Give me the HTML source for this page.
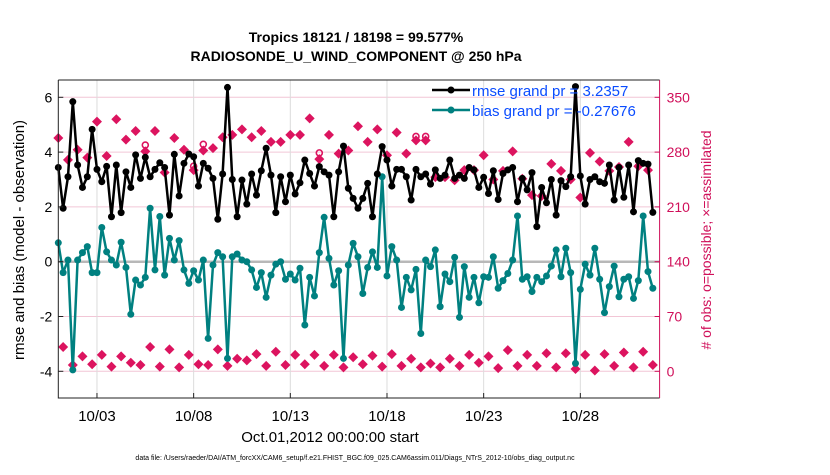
<!DOCTYPE html>
<html><head><meta charset="utf-8">
<style>
body{margin:0;background:#fff;width:830px;height:470px;overflow:hidden;font-family:"Liberation Sans",sans-serif;}
svg text{font-family:"Liberation Sans",sans-serif;}
</style></head>
<body>
<svg id="chart" width="830" height="470" xmlns="http://www.w3.org/2000/svg">
<rect x="0" y="0" width="830" height="470" fill="#fff"/>
<text x="356" y="42" font-size="14" font-weight="bold" text-anchor="middle">Tropics 18121 / 18198 = 99.577%</text>
<text x="356" y="61" font-size="14" font-weight="bold" text-anchor="middle">RADIOSONDE_U_WIND_COMPONENT @ 250 hPa</text>
<g id="grid"></g>
<g id="marks"></g>
<g id="axes"></g>
<text transform="translate(24,240) rotate(-90)" font-size="15" text-anchor="middle">rmse and bias (model - observation)</text>
<text transform="translate(711,240) rotate(-90)" font-size="14" fill="#d0105a" text-anchor="middle"># of obs: o=possible; ×=assimilated</text>
<text x="330" y="442" font-size="15" text-anchor="middle">Oct.01,2012 00:00:00 start</text>
<text x="355" y="460" font-size="7" text-anchor="middle">data file: /Users/raeder/DAI/ATM_forcXX/CAM6_setup/f.e21.FHIST_BGC.f09_025.CAM6assim.011/Diags_NTrS_2012-10/obs_diag_output.nc</text>
<g>
<line x1="432" y1="90" x2="470" y2="90" stroke="#000" stroke-width="2.5"/>
<circle cx="451" cy="90" r="3.5" fill="#000"/>
<text x="472" y="96" font-size="15" fill="#0a4cff">rmse grand pr = 3.2357</text>
<line x1="432" y1="110" x2="470" y2="110" stroke="#008080" stroke-width="2.5"/>
<circle cx="451" cy="110" r="3.5" fill="#008080"/>
<text x="472" y="116" font-size="15" fill="#0a4cff">bias grand pr = -0.27676</text>
</g>
</svg>
<script>
const rmse=[3.44,1.95,3.1,5.84,3.53,2.71,3.1,4.83,3.37,2.92,3.48,1.64,3.53,1.79,3.28,2.71,3.9,3.04,3.81,3.1,3.37,3.61,3.44,1.7,3.92,2.4,3.59,3.93,3.83,2.76,3.59,3.41,
3.04,1.55,3.2,6.36,3.0,1.64,2.98,2.1,3.2,2.43,3.32,4.14,3.16,1.79,3.1,2.19,3.16,2.47,2.88,3.71,3.22,2.76,3.47,3.28,3.16,1.64,3.28,4.22,2.68,2.31,1.95,
2.31,2.86,1.64,3.2,4.2,3.71,2.76,3.37,3.37,3.1,2.25,3.37,3.1,3.2,2.83,3.35,3.04,3.16,3.71,3.04,3.16,3.04,3.44,3.35,2.71,3.08,2.49,3.32,2.27,3.22,3.35,
3.44,2.19,3.04,2.62,3.25,1.28,2.71,2.15,3.0,1.7,2.96,2.74,3.1,6.39,3.13,2.1,3.0,3.1,2.92,2.86,3.53,2.25,3.44,2.35,3.53,1.82,3.69,3.59,3.56,1.8];
const bias=[0.69,-0.4,0.06,-3.95,0.06,0.33,0.55,-0.4,-0.4,1.25,0.36,0.06,-0.12,0.71,-0.21,-1.92,-0.67,-0.85,-0.57,1.95,-0.3,1.65,-0.49,0.85,0.06,0.77,-0.3,-0.79,-0.33,-0.67,0.06,-2.8,
-0.12,0.33,0.18,-3.53,0.18,0.28,0.06,0,-0.3,-0.94,-0.4,-1.3,-0.49,-0.09,0,-0.64,-0.45,-0.67,-0.24,-2.31,-0.57,-1.25,0.33,1.62,0.12,-0.85,-0.33,-3.53,-0.12,0.67,0.18,
-1.16,-0.21,0.36,-0.21,3.1,-0.52,0.55,0.06,-1.67,-0.57,-1.03,-0.28,-2.62,0.06,-0.18,0.43,-1.64,-0.45,-0.73,0.16,-2.03,-0.18,-1.3,-0.57,-1.5,-0.55,-0.57,0.18,-0.97,-0.69,-0.43,
0.06,1.67,-0.64,-0.55,-1.09,-0.57,-0.73,-0.52,-0.16,0.43,-0.55,0.49,-0.4,-3.71,-1.01,-0.09,-0.49,0.49,-0.64,-1.86,-0.91,-0.16,-1.28,-0.64,-0.55,-1.34,-0.69,1.67,-0.36,-0.97];
const nAssim=[298,31,270,8,283,19,273,9,319,21,275,6,322,19,296,11,307,8,281,31,307,6,254,28,298,5,283,21,257,9,282,8,
285,28,299,7,302,16,309,14,299,22,307,7,293,25,293,8,302,21,302,9,323,21,271,7,302,21,278,5,282,18,313,
9,293,20,309,6,276,22,305,7,278,16,295,5,295,10,248,5,248,16,244,7,257,21,257,11,276,19,245,4,256,27,
281,7,246,21,225,7,224,23,265,5,256,23,245,3,222,21,279,1,268,22,256,7,261,24,293,5,262,25,257,8];
const nPoss=nAssim.map((v,i)=>[18,28,30,54,74,76].includes(i)?v+(i===74||i===76?5:i===28?5:8):v);
const leftTicks=[-4,-2,0,2,4,6];
const rightTicks=[0,70,140,210,280,350];
const xTickDays=[2,7,12,17,22,27];
const xTickLabels=["10/03","10/08","10/13","10/18","10/23","10/28"];

const PL=58.3,PR=659.6,PT=80,PB=398;
const X0=0,X1=31.1;
const sx=d=>PL+(d-X0)/(X1-X0)*(PR-PL);
const sy=v=>261.7-v*27.4;
const sr=c=>sy(c/35-4);
const NS='http://www.w3.org/2000/svg';
function mk(tag,attrs,parent){const e=document.createElementNS(NS,tag);for(const k in attrs)e.setAttribute(k,attrs[k]);parent.appendChild(e);return e;}
const grid=document.getElementById('grid'),marks=document.getElementById('marks'),axes=document.getElementById('axes');
// grid
leftTicks.forEach(t=>{const l=mk('line',{x1:PL,x2:PR,y1:sy(t),y2:sy(t),stroke:'#f2c6d6','stroke-width':1},grid);

});
xTickDays.forEach(d=>{const l=mk('line',{x1:sx(d),x2:sx(d),y1:PT,y2:PB,stroke:'#dcdcdc','stroke-width':1},grid);

});
const zl=mk('line',{x1:PL,x2:PR,y1:sy(0),y2:sy(0),stroke:'#b8b8b8','stroke-width':2.5},grid);


// obs counts
function star(cx,cy,g){
 const p=mk('polygon',{points:`${cx},${cy-5} ${cx+5},${cy} ${cx},${cy+5} ${cx-5},${cy}`,fill:'#dc145f'},g);
 return p;}
nAssim.forEach((c,i)=>{const x=sx(i/4);
 if(nPoss[i]!==c){const o=mk('circle',{cx:x,cy:sr(nPoss[i]),r:3,fill:'none',stroke:'#dc145f','stroke-width':1.6},marks);
 
 }
 const s=star(x,sr(c),marks);
 
 });
// series
function series(vals,color,name){
 const pts=vals.map((v,i)=>sx(i/4).toFixed(1)+','+sy(v).toFixed(1)).join(' ');
 const pl=mk('polyline',{points:pts,fill:'none',stroke:color,'stroke-width':2.5,'stroke-linejoin':'round'},marks);
 
 
 vals.forEach((v,i)=>{const c=mk('circle',{cx:sx(i/4),cy:sy(v),r:3.5,fill:color},marks);
 
 });
}
series(bias,'#008080','bias');
series(rmse,'#000000','rmse');
// axes frame
const fr=mk('path',{d:`M${PL},${PT} L${PR},${PT} M${PL},${PT} L${PL},${PB} L${PR},${PB}`,stroke:'#222',fill:'none','stroke-width':1},axes);


const ra=mk('line',{x1:PR,x2:PR,y1:PT,y2:PB,stroke:'#d0105a','stroke-width':1},axes);


leftTicks.forEach(t=>{mk('line',{x1:PL,x2:PL+5,y1:sy(t),y2:sy(t),stroke:'#222'},axes);
 const tx=mk('text',{x:PL-6,y:sy(t)+5,'font-size':14,'text-anchor':'end'},axes);tx.textContent=t;
 
 });
rightTicks.forEach(t=>{mk('line',{x1:PR,x2:PR-5,y1:sr(t),y2:sr(t),stroke:'#d0105a'},axes);
 const tx=mk('text',{x:PR+7,y:sr(t)+5,'font-size':14,fill:'#d0105a'},axes);tx.textContent=t;
 
 });
xTickDays.forEach((d,i)=>{mk('line',{x1:sx(d),x2:sx(d),y1:PB,y2:PB-5,stroke:'#222'},axes);
 const tx=mk('text',{x:sx(d),y:421,'font-size':15,'text-anchor':'middle'},axes);tx.textContent=xTickLabels[i];
 
 });
</script>
</body></html>
